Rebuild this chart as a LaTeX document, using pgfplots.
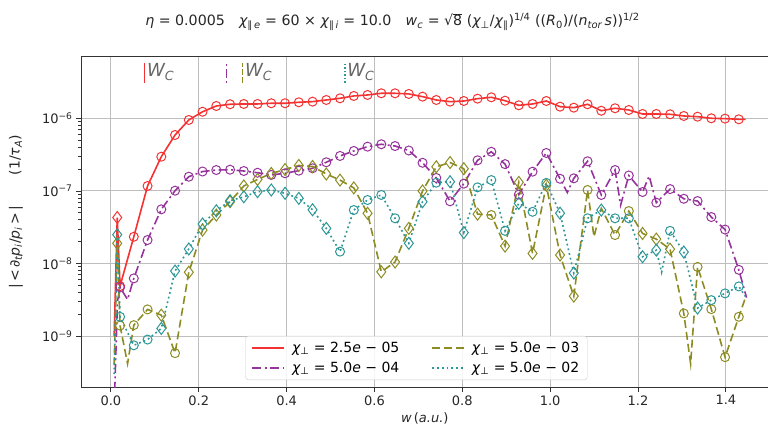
\documentclass[border=0pt]{standalone}
\usepackage{fontspec}
\setmainfont{DejaVu Sans}
\usepackage{pgfplots}
\pgfplotsset{compat=1.18}
\usepackage{pgfplotstable}
\usetikzlibrary{calc}

\definecolor{cred}{RGB}{245,50,50}
\definecolor{cpur}{RGB}{150,50,155}
\definecolor{coli}{RGB}{140,140,35}
\definecolor{cteal}{RGB}{45,150,150}
\definecolor{cgrid}{RGB}{190,190,190}

% m: 0 = no marker, 1 = circle, 2 = diamond
\pgfplotstableread{
x y m
0.0075 1.0e-9 0
0.0145 4.3e-8 2
0.0209 4.9e-9 1
0.0522 2.34e-8 1
0.0835 1.17e-7 1
0.1148 2.96e-7 1
0.1461 5.89e-7 1
0.1774 9.48e-7 1
0.2087 1.23e-6 1
0.2400 1.476e-6 1
0.2713 1.56e-6 1
0.3026 1.574e-6 1
0.3339 1.574e-6 1
0.3652 1.61e-6 1
0.3965 1.61e-6 1
0.4278 1.66e-6 1
0.4591 1.694e-6 1
0.4904 1.786e-6 1
0.5217 1.884e-6 1
0.5530 2.03e-6 1
0.5843 2.094e-6 1
0.6156 2.208e-6 1
0.6469 2.208e-6 1
0.6782 2.163e-6 1
0.7095 1.986e-6 1
0.7408 1.786e-6 1
0.7721 1.694e-6 1
0.8034 1.73e-6 1
0.8347 1.862e-6 1
0.8660 1.945e-6 1
0.8973 1.746e-6 1
0.9286 1.51e-6 1
0.9599 1.574e-6 1
0.9912 1.73e-6 1
1.0225 1.445e-6 1
1.0538 1.4e-6 1
1.0851 1.56e-6 1
1.1164 1.27e-6 1
1.1477 1.374e-6 1
1.1790 1.3e-6 1
1.2103 1.146e-6 1
1.2416 1.146e-6 1
1.2729 1.135e-6 1
1.3042 1.076e-6 1
1.3355 1.052e-6 1
1.3668 1.0e-6 1
1.3981 0.989e-6 1
1.4294 0.968e-6 1
1.4450 0.968e-6 0
}\tred

\pgfplotstableread{
x y m
0.0075 1.0e-10 0
0.0150 3.0e-9 0
0.0209 4.7e-9 1
0.0380 3.2e-9 0
0.0522 6.25e-9 1
0.0835 2.11e-8 1
0.1148 5.58e-8 1
0.1461 1.007e-7 1
0.1774 1.57e-7 1
0.2087 1.85e-7 1
0.2400 1.94e-7 1
0.2713 1.96e-7 1
0.3026 1.88e-7 1
0.3339 1.78e-7 1
0.3652 1.66e-7 1
0.3965 1.75e-7 1
0.4278 1.9e-7 1
0.4591 2.05e-7 1
0.4904 2.48e-7 1
0.5217 3.03e-7 1
0.5530 3.55e-7 1
0.5843 4.07e-7 1
0.6156 4.39e-7 1
0.6469 4.15e-7 1
0.6782 3.6e-7 1
0.7095 2.44e-7 1
0.7408 1.51e-7 1
0.7721 7.2e-8 1
0.8034 1.26e-7 1
0.8347 2.64e-7 1
0.8660 3.46e-7 1
0.8973 2.34e-7 1
0.9286 8.9e-8 1
0.9599 1.84e-7 1
0.9912 3.33e-7 1
1.0225 1.47e-7 1
1.0390 9.5e-8 0
1.0538 1.49e-7 1
1.0851 2.56e-7 1
1.1164 8.8e-8 1
1.1477 1.94e-7 1
1.1604 6.4e-8 0
1.1790 1.63e-7 1
1.2103 9.66e-8 1
1.2253 1.6e-7 0
1.2416 6.9e-8 1
1.2729 1.06e-7 1
1.3042 7.8e-8 1
1.3355 7.26e-8 1
1.3668 4.37e-8 1
1.3981 2.94e-8 1
1.4294 8.2e-9 1
1.4470 3.4e-9 0
}\tpur

\pgfplotstableread{
x y m
0.0075 4.0e-10 0
0.0145 1.9e-8 2
0.0209 1.4e-9 1
0.0380 4.2e-10 0
0.0522 1.42e-9 1
0.0835 2.34e-9 1
0.1148 1.95e-9 2
0.1461 5.85e-10 1
0.1774 7.6e-9 2
0.2087 2.89e-8 2
0.2400 4.66e-8 2
0.2713 7.1e-8 2
0.3026 1.17e-7 2
0.3339 1.44e-7 2
0.3652 1.74e-7 2
0.3965 1.97e-7 2
0.4278 2.24e-7 2
0.4591 2.17e-7 2
0.4904 1.71e-7 2
0.5217 1.41e-7 2
0.5530 1.1e-7 2
0.5843 4.92e-8 2
0.6156 7.7e-9 2
0.6469 1.05e-8 2
0.6782 3.05e-8 2
0.7095 9.98e-8 2
0.7408 2.15e-7 2
0.7721 2.46e-7 2
0.8034 2.02e-7 2
0.8347 4.79e-8 2
0.8660 4.66e-8 1
0.8973 1.74e-8 2
0.9286 1.31e-7 2
0.9599 1.38e-8 2
0.9912 1.2e-7 2
1.0225 1.31e-8 2
1.0538 3.56e-9 2
1.0851 1.03e-7 1
1.0997 2.34e-8 0
1.1164 5.75e-8 0
1.1477 2.47e-8 1
1.1790 5.28e-8 1
1.2103 2.6e-8 2
1.2416 2.17e-8 2
1.2729 1.58e-8 2
1.3042 2.06e-9 1
1.3197 4.2e-10 0
1.3355 9.0e-9 1
1.3668 2.36e-9 1
1.3981 5.15e-10 1
1.4294 1.85e-9 1
1.4450 3.46e-9 0
}\toli

\pgfplotstableread{
x y m
0.0075 3.0e-10 0
0.0145 2.5e-8 2
0.0209 1.85e-9 1
0.0522 7.5e-10 1
0.0835 9.0e-10 1
0.1148 1.28e-9 2
0.1461 7.9e-9 2
0.1774 1.59e-8 2
0.2087 3.5e-8 2
0.2400 5.33e-8 2
0.2713 7.33e-8 2
0.3026 8.3e-8 2
0.3339 9.75e-8 2
0.3652 1.03e-7 2
0.3965 9.27e-8 2
0.4278 7.9e-8 2
0.4591 5.5e-8 2
0.4904 3.05e-8 2
0.5217 1.46e-8 1
0.5530 5.46e-8 1
0.5843 7.5e-8 1
0.6156 8.8e-8 1
0.6469 4.2e-8 1
0.6782 1.9e-8 2
0.7095 7.1e-8 2
0.7408 1.3e-7 1
0.7721 1.34e-7 2
0.8034 2.67e-8 2
0.8347 1.12e-7 1
0.8660 1.41e-7 1
0.8973 2.82e-8 1
0.9286 6.75e-8 2
0.9599 5.16e-8 1
0.9912 1.29e-7 1
1.0225 4.93e-8 2
1.0538 7.4e-9 2
1.0851 4.2e-8 1
1.1164 5.46e-8 2
1.1477 4.2e-8 1
1.1790 4.2e-8 1
1.2103 1.24e-8 2
1.2416 1.53e-8 2
1.2537 7.6e-9 0
1.2729 2.82e-8 1
1.3042 1.44e-8 2
1.3355 2.44e-9 2
1.3668 3.14e-9 1
1.3981 3.89e-9 1
1.4294 4.85e-9 1
1.4450 3.5e-9 0
}\tteal

\tikzset{
  lred/.style={cred, line width=1.6pt},
  lpur/.style={cpur, line width=1.6pt, dash pattern=on 9pt off 3.5pt on 2pt off 3.5pt},
  loli/.style={coli, line width=1.6pt, dash pattern=on 8pt off 4pt},
  lteal/.style={cteal, line width=1.6pt, dash pattern=on 1.8pt off 3pt},
}
\pgfplotsset{
  circ/.style={only marks, mark=o, mark size=4.5pt, mark options={solid, line width=1pt}, restrict expr to domain={\thisrow{m}}{1:1}, forget plot},
  diam/.style={only marks, mark=diamond, mark size=6pt, mark options={solid, line width=1pt}, restrict expr to domain={\thisrow{m}}{2:2}, forget plot},
}

\newcommand{\chiperp}{{\itshape χ}\textsubscript{⊥}}

\begin{document}
\begin{tikzpicture}
\begin{axis}[
  name=ax,
  scale only axis, width=687.5pt, height=331pt,
  ymode=log,
  xmin=-0.068, xmax=1.497, ymin=2.0e-10, ymax=7.2e-6,
  xtick={0,0.2,0.4,0.6,0.8,1.0,1.2,1.4},
  xticklabels={0.0,0.2,0.4,0.6,0.8,1.0,1.2,1.4},
  ytick={1e-9,1e-8,1e-7,1e-6},
  yticklabels={10\textsuperscript{−9},10\textsuperscript{−8},10\textsuperscript{−7},10\textsuperscript{−6}},
  xtick pos=bottom, ytick pos=left,
  tick align=outside,
  major tick length=5pt, minor tick length=3pt,
  grid=major,
  major grid style={cgrid, line width=0.9pt},
  axis line style={black!80, line width=0.9pt},
  tick style={black!80, line width=0.8pt},
  ticklabel style={font=\fontsize{13}{15}\selectfont, text=black!85},
  every axis x label/.style={at={(rel axis cs:0.5,0)}, anchor=center, yshift=-31pt},
  every axis y label/.style={at={(rel axis cs:0,0.529)}, rotate=90, anchor=center, yshift=65pt},
  label style={text=black!85},
  xlabel style={font=\fontsize{13}{15}\selectfont},
  ylabel style={font=\fontsize{14}{16}\selectfont},
  xlabel={{\itshape w}\,({\itshape a.u.})},
  ylabel={|\,<\,∂\textsubscript{\itshape t}{\itshape p}\textsubscript{\itshape i}/{\itshape p}\textsubscript{\itshape i}\,>\,|\hspace{2.2em}(1/{\itshape τ}\textsubscript{\itshape A})},
  legend columns=2,
  legend cell align=left,
  legend image code/.code={\draw[#1] (0pt,0pt) -- (32pt,0pt);},
  legend style={at={(rel axis cs:0.239,0.021)}, anchor=south west,
    draw=black!20, rounded corners=3pt, fill=white, fill opacity=0.85, text opacity=1,
    font=\fontsize{14}{16}\selectfont, inner xsep=6pt, inner ysep=4pt,
    /tikz/every even column/.append style={column sep=30pt},
    row sep=4pt},
]
\addlegendimage{lred}
\addlegendentry{\hspace{5pt}\chiperp\ = 2.5{\itshape e} − 05}
\addlegendimage{loli}
\addlegendentry{\hspace{5pt}\chiperp\ = 5.0{\itshape e} − 03}
\addlegendimage{lpur}
\addlegendentry{\hspace{5pt}\chiperp\ = 5.0{\itshape e} − 04}
\addlegendimage{lteal}
\addlegendentry{\hspace{5pt}\chiperp\ = 5.0{\itshape e} − 02}

% red
\addplot[lred, forget plot] table[x=x, y=y] {\tred};
\addplot[cred, circ] table[x=x, y=y] {\tred};
\addplot[cred, diam] table[x=x, y=y] {\tred};
% purple
\addplot[lpur, forget plot] table[x=x, y=y] {\tpur};
\addplot[cpur, circ] table[x=x, y=y] {\tpur};
% olive
\addplot[loli, forget plot] table[x=x, y=y] {\toli};
\addplot[coli, circ] table[x=x, y=y] {\toli};
\addplot[coli, diam] table[x=x, y=y] {\toli};
% teal
\addplot[lteal, forget plot] table[x=x, y=y] {\tteal};
\addplot[cteal, circ] table[x=x, y=y] {\tteal};
\addplot[cteal, diam] table[x=x, y=y] {\tteal};

% w_c markers
\addplot[cred, line width=1.2pt, forget plot] coordinates {(0.0774,3.06e-6) (0.0774,5.83e-6)};
\addplot[cpur, line width=1.2pt, dash pattern=on 2pt off 3pt on 9pt off 3pt, forget plot] coordinates {(0.263,3.06e-6) (0.263,5.83e-6)};
\addplot[coli, line width=1.2pt, dash pattern=on 6pt off 2pt, forget plot] coordinates {(0.2997,3.06e-6) (0.2997,5.83e-6)};
\addplot[cteal, line width=1.2pt, dash pattern=on 1.5pt off 2pt, forget plot] coordinates {(0.533,3.06e-6) (0.533,5.83e-6)};
\node[anchor=base west, text=black!60, font=\fontsize{18}{20}\selectfont, inner sep=0pt] at (axis cs:0.082,3.74e-6) {{\itshape W}\textsubscript{\itshape C}};
\node[anchor=base west, text=black!60, font=\fontsize{18}{20}\selectfont, inner sep=0pt] at (axis cs:0.305,3.74e-6) {{\itshape W}\textsubscript{\itshape C}};
\node[anchor=base west, text=black!60, font=\fontsize{18}{20}\selectfont, inner sep=0pt] at (axis cs:0.538,3.74e-6) {{\itshape W}\textsubscript{\itshape C}};
\end{axis}
\node[font=\fontsize{14.2}{16}\selectfont, text=black!85] at ($(ax.north west)!0.453!(ax.north east)+(0,34pt)$)
 {{\itshape η} = 0.0005\hspace{1em}{\itshape χ}\textsubscript{∥\,{\itshape e}} = 60 × {\itshape χ}\textsubscript{∥\,{\itshape i}} = 10.0\hspace{1em}{\itshape w}\textsubscript{\itshape c} = √$\overline{\mbox{8}}$ ({\itshape χ}\textsubscript{⊥}/{\itshape χ}\textsubscript{∥})\textsuperscript{1/4} (({\itshape R}\textsubscript{0})/({\itshape n}\textsubscript{\itshape tor}\,{\itshape s}))\textsuperscript{1/2}};
\pgfresetboundingbox
\path[use as bounding box] ($(ax.south west)+(-81pt,-53pt)$) rectangle ($(ax.north east)+(-0.5pt,56pt)$);
\end{tikzpicture}
\end{document}
